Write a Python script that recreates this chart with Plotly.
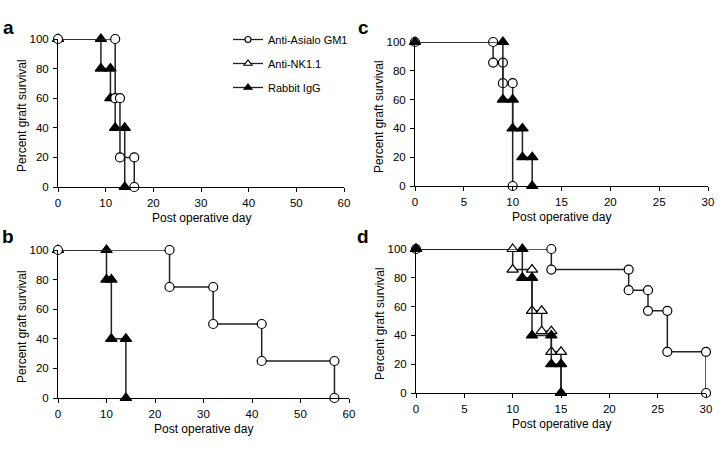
import plotly.graph_objects as go

W, H = 722, 454

# ---- data (step-curve corner points: day, percent survival) ----
# Panel a
a_asialo_day = [0, 12, 12, 13, 13, 16, 16]
a_asialo_pct = [100, 100, 60, 60, 20, 20, 0]
a_igg_day = [0, 9, 9, 11, 11, 12, 12, 14, 14]
a_igg_pct = [100, 100, 80, 80, 60, 60, 40, 40, 0]
# Panel b
b_asialo_day = [0, 23, 23, 32, 32, 42, 42, 57, 57]
b_asialo_pct = [100, 100, 75, 75, 50, 50, 25, 25, 0]
b_igg_day = [0, 10, 10, 11, 11, 14, 14]
b_igg_pct = [100, 100, 80, 80, 40, 40, 0]
# Panel c
c_asialo_day = [0, 8, 8, 9, 9, 10, 10]
c_asialo_pct = [100, 100, 85.7, 85.7, 71.4, 71.4, 0]
c_igg_day = [0, 9, 9, 10, 10, 11, 11, 12, 12]
c_igg_pct = [100, 100, 60, 60, 40, 40, 20, 20, 0]
# Panel d
d_asialo_day = [0, 14, 14, 22, 22, 24, 24, 26, 26, 30, 30]
d_asialo_pct = [100, 100, 85.7, 85.7, 71.4, 71.4, 57.1, 57.1, 28.6, 28.6, 0]
d_nk_day = [0, 10, 10, 12, 12, 13, 13, 14, 14, 15, 15]
d_nk_pct = [100, 100, 85.7, 85.7, 57.1, 57.1, 42.9, 42.9, 28.6, 28.6, 0]
d_igg_day = [0, 11, 11, 12, 12, 14, 14, 15, 15]
d_igg_pct = [100, 100, 80, 80, 40, 40, 20, 20, 0]

series_names = ["Anti-Asialo GM1", "Anti-NK1.1", "Rabbit IgG"]
y_ticks = [0, 20, 40, 60, 80, 100]
x_ticks_long = [0, 10, 20, 30, 40, 50, 60]
x_ticks_short = [0, 5, 10, 15, 20, 25, 30]
panel_letters = ["a", "b", "c", "d"]
x_title = "Post operative day"
y_title = "Percent graft survival"

FONT = "Liberation Sans, Arial, sans-serif"
LINE = "#222222"

STYLE = {
    "Anti-Asialo GM1": dict(symbol="circle", size=9, color="white"),
    "Anti-NK1.1": dict(symbol="triangle-up", size=10, color="white"),
    "Rabbit IgG": dict(symbol="triangle-up", size=10, color="black"),
}

fig = go.Figure()


def add(name, xs, ys, ax):
    st = STYLE[name]
    fig.add_trace(go.Scatter(
        x=xs, y=ys, mode="lines+markers", name=name,
        xaxis="x" + ax, yaxis="y" + ax,
        line=dict(color=LINE, width=1.5),
        marker=dict(symbol=st["symbol"], size=st["size"], color=st["color"],
                    line=dict(color="black", width=1.2)),
        cliponaxis=False, showlegend=False,
    ))


# panel a (axis 1)
add("Rabbit IgG", a_igg_day, a_igg_pct, "")
add("Anti-Asialo GM1", a_asialo_day, a_asialo_pct, "")
# panel b (axis 2)
add("Rabbit IgG", b_igg_day, b_igg_pct, "2")
add("Anti-Asialo GM1", b_asialo_day, b_asialo_pct, "2")
# panel c (axis 3)
add("Anti-Asialo GM1", c_asialo_day, c_asialo_pct, "3")
add("Rabbit IgG", c_igg_day, c_igg_pct, "3")
# panel d (axis 4)
add("Anti-Asialo GM1", d_asialo_day, d_asialo_pct, "4")
add("Anti-NK1.1", d_nk_day, d_nk_pct, "4")
add("Rabbit IgG", d_igg_day, d_igg_pct, "4")

# legend entries (smaller markers, as in the reference key)
for rank, name in enumerate(series_names):
    st = STYLE[name]
    fig.add_trace(go.Scatter(
        x=[None], y=[None], mode="lines+markers", name=name,
        line=dict(color=LINE, width=1.3),
        marker=dict(symbol=st["symbol"], size=6 if st["symbol"] == "circle" else 7,
                    color=st["color"], line=dict(color="black", width=1.1)),
        showlegend=True, legendgroup=name, legendrank=rank + 1,
    ))

# panel geometry in pixels: x0, x1 (plot), ytop(100), ybot(0)
panels = [
    (58, 344, 39, 187, x_ticks_long),
    (58, 349, 250, 398, x_ticks_long),
    (415, 708, 42, 186, x_ticks_short),
    (416, 706, 249, 393, x_ticks_short),
]

axis_common = dict(showline=True, linecolor="black", linewidth=1,
                   ticks="outside", ticklen=4, tickwidth=1, tickcolor="black",
                   showgrid=False, zeroline=False, automargin=False,
                   tickfont=dict(family=FONT, size=11.5, color="black"))

layout = dict(width=W, height=H,
              margin=dict(l=0, r=0, t=0, b=0, pad=0, autoexpand=False),
              paper_bgcolor="white", plot_bgcolor="white",
              font=dict(family=FONT, color="black"))

annotations = []
for i, (x0, x1, yt, yb, xt) in enumerate(panels):
    sfx = "" if i == 0 else str(i + 1)
    layout["xaxis" + sfx] = dict(axis_common, domain=[x0 / W, x1 / W],
                                 range=[xt[0], xt[-1]], tickvals=xt,
                                 anchor="y" + sfx, ticklabelstandoff=1)
    layout["yaxis" + sfx] = dict(axis_common, domain=[1 - yb / H, 1 - yt / H],
                                 range=[0, 100], tickvals=y_ticks,
                                 anchor="x" + sfx, ticklabelstandoff=2)
    # axis titles
    annotations.append(dict(text=x_title, xref="paper", yref="paper",
                            x=(x0 + x1) / 2 / W, y=1 - (yb + 31) / H,
                            xanchor="center", yanchor="middle",
                            showarrow=False, font=dict(size=12, family=FONT)))
    annotations.append(dict(text=y_title, xref="paper", yref="paper",
                            x=(x0 - 36) / W, y=1 - ((yt + yb) / 2 + 3) / H,
                            xanchor="center", yanchor="middle",
                            textangle=-90, showarrow=False,
                            font=dict(size=12, family=FONT)))

letter_pos = [(8, 27), (8, 236), (363, 27), (363, 236)]
for letter, (lx, ly) in zip(panel_letters, letter_pos):
    annotations.append(dict(text="<b>%s</b>" % letter, xref="paper", yref="paper",
                            x=lx / W, y=1 - ly / H, xanchor="center", yanchor="middle",
                            showarrow=False, font=dict(size=19, family=FONT)))

layout["annotations"] = annotations
layout["legend"] = dict(x=228 / W, y=1 - 25 / H, xanchor="left", yanchor="top",
                        bgcolor="rgba(0,0,0,0)", font=dict(size=11, family=FONT),
                        tracegroupgap=5, itemwidth=30)
layout["showlegend"] = True

fig.update_layout(**layout)
fig.write_html("out.html", config={"displayModeBar": False},
               post_script="document.body.style.margin='0';document.body.style.padding='0';")
